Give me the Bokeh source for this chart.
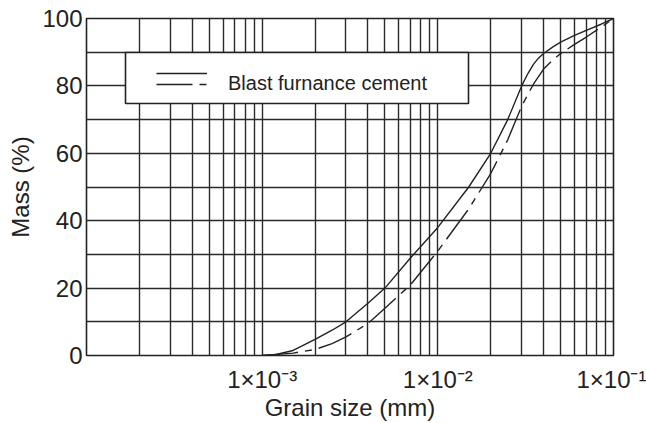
from bokeh.plotting import figure
from bokeh.models import (Range1d, FixedTicker, CustomJSTickFormatter, Legend, LegendItem,
                          BoxAnnotation)
from bokeh.embed import file_html
from bokeh.resources import INLINE

# ---------------- data ----------------
grain_solid = [1e-3, 1.2e-3, 1.5e-3, 2e-3, 2.5e-3, 3e-3, 4e-3, 5e-3, 7e-3, 1e-2, 1.5e-2,
               2e-2, 2.5e-2, 3e-2, 3.25e-2, 3.5e-2, 3.75e-2, 4e-2, 4.5e-2, 5e-2, 6e-2,
               7e-2, 8.5e-2, 1e-1]
mass_solid = [0, 0.3, 1.5, 4.8, 7.5, 10, 15.5, 20, 29, 38, 50,
              60, 70, 80, 83.6, 86.4, 88.3, 89.6, 91.5, 93, 95,
              96.5, 98.3, 100]

grain_dash = [1e-3, 1.5e-3, 2e-3, 2.5e-3, 3e-3, 4e-3, 5e-3, 7e-3, 1e-2, 1.5e-2, 2e-2,
              2.5e-2, 3e-2, 3.5e-2, 4e-2, 4.5e-2, 5e-2, 6e-2, 7e-2, 8.5e-2, 1e-1]
mass_dash = [0, 0.7, 1.8, 3.5, 5.5, 9.5, 14, 21, 31, 43.5, 54,
             64, 74, 80.5, 85, 87.6, 89.6, 92.3, 94.5, 97.4, 100]

x_tick_values = [1e-3, 1e-2, 1e-1]
x_tick_labels = ["1×10⁻³", "1×10⁻²", "1×10⁻¹"]
x_grid_values = [m * 10.0 ** e for e in (-4, -3, -2) for m in range(1, 10)] + [1e-1]
y_tick_values = [0, 20, 40, 60, 80, 100]
y_grid_values = list(range(0, 101, 10))

legend_label = "Blast furnance cement"
x_title = "Grain size (mm)"
y_title = "Mass (%)"

FONT = "Liberation Sans"
INK = "#222222"

p = figure(width=646, height=423, output_backend="svg", toolbar_location=None,
           x_axis_type="log", x_range=Range1d(1e-4, 1e-1), y_range=Range1d(0, 100),
           min_border_left=86, min_border_right=33, min_border_top=18, min_border_bottom=68)
p.background_fill_color = "white"
p.border_fill_color = "white"
p.outline_line_color = INK
p.outline_line_width = 1.6

# grid
p.xgrid.ticker = FixedTicker(ticks=x_grid_values)
p.ygrid.ticker = FixedTicker(ticks=y_grid_values)
for g in (p.xgrid, p.ygrid):
    g.grid_line_color = "#2a2a2a"
    g.grid_line_width = 1.4
    g.grid_line_alpha = 1.0
    g.minor_grid_line_color = None

# axes
p.xaxis.ticker = FixedTicker(ticks=x_tick_values)
p.xaxis.formatter = CustomJSTickFormatter(
    args=dict(vals=x_tick_values, labs=x_tick_labels),
    code="""
const i = vals.findIndex(v => Math.abs(Math.log10(v) - Math.log10(tick)) < 1e-6);
return i >= 0 ? labs[i] : "";
""")
p.yaxis.ticker = FixedTicker(ticks=y_tick_values)
p.xaxis.axis_label = x_title
p.yaxis.axis_label = y_title

for ax in (p.xaxis, p.yaxis):
    ax.axis_line_color = None
    ax.major_tick_line_color = None
    ax.minor_tick_line_color = None
    ax.major_tick_out = 0
    ax.major_tick_in = 0
    ax.minor_tick_out = 0
    ax.minor_tick_in = 0
    ax.major_label_text_font = FONT
    ax.major_label_text_color = INK
    ax.major_label_text_font_size = "24px"
    ax.axis_label_text_font = FONT
    ax.axis_label_text_font_style = "normal"
    ax.axis_label_text_color = INK
    ax.axis_label_text_font_size = "24px"

p.xaxis.major_label_standoff = 10
p.xaxis.axis_label_standoff = -2
p.yaxis.major_label_standoff = 4
p.yaxis.axis_label_standoff = 5

# curves
r_solid = p.line(grain_solid, mass_solid, line_color=INK, line_width=1.4)
r_dash = p.line(grain_dash, mass_dash, line_color=INK, line_width=1.4, line_dash="36 7 7 7")

# legend frame
box = BoxAnnotation(left=39, right=382, bottom=252, top=303,
                    left_units="screen", right_units="screen",
                    top_units="screen", bottom_units="screen",
                    fill_color="white", fill_alpha=1.0,
                    line_color=INK, line_width=1.6, line_alpha=1.0)
p.add_layout(box)

common = dict(glyph_width=51, glyph_height=22, label_height=22, padding=0, spacing=0,
              margin=0, border_line_color=None, background_fill_alpha=0,
              label_standoff=21, label_text_font=FONT, label_text_font_size="20px",
              label_text_color=INK)
leg_solid = Legend(items=[LegendItem(label=" ", renderers=[r_solid])],
                   location=(70, 271), **common)
leg_dash = Legend(items=[LegendItem(label=legend_label, renderers=[r_dash])],
                  location=(70, 260), **common)
p.add_layout(leg_solid)
p.add_layout(leg_dash)

open("out.html", "w").write(file_html(p, INLINE))
